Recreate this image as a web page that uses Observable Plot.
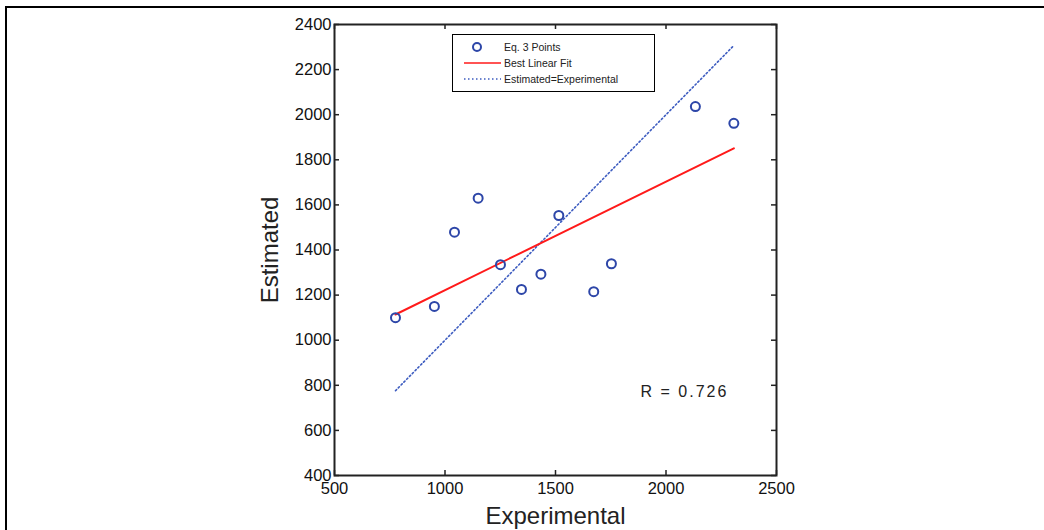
<!DOCTYPE html>
<html><head><meta charset="utf-8">
<script src="https://cdn.jsdelivr.net/npm/d3@7"></script>
<script src="https://cdn.jsdelivr.net/npm/@observablehq/plot@0.6"></script>
<style>
body{margin:0;background:#fff;}
#wrap{position:relative;width:1044px;height:530px;overflow:hidden;font-family:"Liberation Sans",Arial,sans-serif;background:#fff;}
#border{position:absolute;left:5px;top:6px;width:1100px;height:600px;border-top:2px solid #000;border-left:2px solid #000;}
#chart{position:absolute;left:0;top:0;}
#legend{position:absolute;left:452px;top:34px;width:201px;height:56px;border:1px solid #000;background:#fff;font-size:10px;color:#222;}
#legend svg{position:absolute;left:0;top:0;}
</style></head>
<body>
<div id="wrap"><div id="border"></div><div id="chart"></div><div id="legend"></div></div>
<script>
const experimental = [776, 952, 1043, 1150, 1251, 1346, 1434, 1515, 1673, 1753, 2133, 2307];
const estimated    = [1100, 1150, 1479, 1630, 1335, 1225, 1293, 1553, 1215, 1339, 2036, 1962];
const fitX = [776, 2307];
const fitY = [1114, 1851];
const identityX = [776, 2307];
const xTicks = [500, 1000, 1500, 2000, 2500];
const yTicks = [400, 600, 800, 1000, 1200, 1400, 1600, 1800, 2000, 2200, 2400];
const legendLabels = ["Eq. 3 Points", "Best Linear Fit", "Estimated=Experimental"];
const rLabel = "R = 0.726";
const rPos = {x: 1885, y: 770};

const points = experimental.map((x, i) => ({x, y: estimated[i]}));
const fit = fitX.map((x, i) => ({x, y: fitY[i]}));
const ident = identityX.map(x => ({x, y: x}));

const blue = "#2d46a8";
const W = 442, H = 451, T = 5;

const chart = Plot.plot({
  width: 1044, height: 530,
  marginLeft: 334, marginRight: 268, marginTop: 24, marginBottom: 55,
  x: {domain: [500, 2500]},
  y: {domain: [400, 2400]},
  style: {fontFamily: '"Liberation Sans", Arial, sans-serif', background: "transparent", color: "#111"},
  marks: [
    Plot.axisX({ticks: xTicks, tickSize: 0, tickPadding: 7, fontSize: 16.5, label: null, tickFormat: d => String(d)}),
    Plot.axisY({ticks: yTicks, tickSize: 0, tickPadding: 3, fontSize: 16.5, label: null, tickFormat: d => String(d)}),
    Plot.ruleX(xTicks, {x: d => d, insetTop: H - T, stroke: "#222", strokeWidth: 1.5}),
    Plot.ruleX(xTicks, {x: d => d, insetBottom: H - T, stroke: "#222", strokeWidth: 1.5}),
    Plot.ruleY(yTicks, {y: d => d, insetRight: W - T, stroke: "#222", strokeWidth: 1.5}),
    Plot.ruleY(yTicks, {y: d => d, insetLeft: W - T, stroke: "#222", strokeWidth: 1.5}),
    Plot.line(ident, {x: "x", y: "y", stroke: "#3d5cc0", strokeWidth: 1.6, strokeDasharray: "1.5,2.5"}),
    Plot.line(fit, {x: "x", y: "y", stroke: "#ff1a1a", strokeWidth: 2}),
    Plot.dot(points, {x: "x", y: "y", r: 4.5, stroke: blue, strokeWidth: 2, fill: "none"}),
    Plot.text([rLabel], {x: rPos.x, y: rPos.y, text: d => d, textAnchor: "start", fontSize: 16, fill: "#222", className: "rlabel"}),
    Plot.text(["Experimental"], {frameAnchor: "bottom", text: d => d, textAnchor: "middle", lineAnchor: "bottom", dy: 48, fontSize: 24, fill: "#222"}),
    Plot.text(["Estimated"], {frameAnchor: "left", text: d => d, textAnchor: "middle", lineAnchor: "middle", dx: -64, rotate: -90, fontSize: 24, fill: "#222"}),
    Plot.frame({stroke: "#222", strokeWidth: 2})
  ]
});
d3.select(chart).selectAll(".rlabel text").attr("letter-spacing", "2px");
document.getElementById("chart").appendChild(chart);

// legend
const leg = document.getElementById("legend");
const ns = "http://www.w3.org/2000/svg";
const svg = document.createElementNS(ns, "svg");
svg.setAttribute("width", 201); svg.setAttribute("height", 56);
const rows = [12, 28, 44];
const c = document.createElementNS(ns, "circle");
c.setAttribute("cx", 24); c.setAttribute("cy", rows[0]); c.setAttribute("r", 4);
c.setAttribute("fill", "none"); c.setAttribute("stroke", blue); c.setAttribute("stroke-width", 2);
svg.appendChild(c);
const l1 = document.createElementNS(ns, "line");
l1.setAttribute("x1", 11); l1.setAttribute("x2", 48); l1.setAttribute("y1", rows[1]); l1.setAttribute("y2", rows[1]);
l1.setAttribute("stroke", "#ff1a1a"); l1.setAttribute("stroke-width", 1.5);
svg.appendChild(l1);
const l2 = document.createElementNS(ns, "line");
l2.setAttribute("x1", 11); l2.setAttribute("x2", 48); l2.setAttribute("y1", rows[2]); l2.setAttribute("y2", rows[2]);
l2.setAttribute("stroke", "#3d5cc0"); l2.setAttribute("stroke-width", 1.5); l2.setAttribute("stroke-dasharray", "1.5,2.5");
svg.appendChild(l2);
legendLabels.forEach((t, i) => {
  const tx = document.createElementNS(ns, "text");
  tx.setAttribute("x", 51); tx.setAttribute("y", rows[i]); tx.setAttribute("dy", "0.35em");
  tx.setAttribute("font-size", 10.5); tx.setAttribute("fill", "#222");
  tx.setAttribute("font-family", '"Liberation Sans", Arial, sans-serif');
  tx.textContent = t;
  svg.appendChild(tx);
});
leg.appendChild(svg);
</script>
</body></html>
